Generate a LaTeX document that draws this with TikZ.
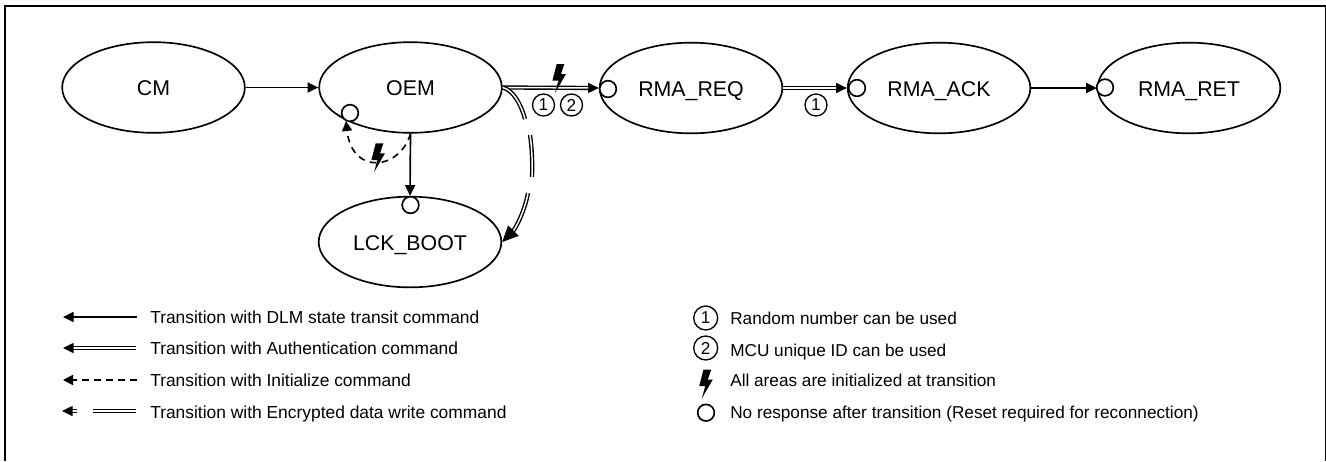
\documentclass[tikz,border=0pt]{standalone}
\usepackage{fontspec}
\setmainfont{Liberation Sans}
\usetikzlibrary{shapes.geometric,arrows.meta}
\tikzset{
  stnode/.style={ellipse,draw,line width=1.25pt,minimum width=137pt,minimum height=68pt,inner sep=0pt,text height=12.5pt,text depth=0pt,font=\fontsize{16}{18}\selectfont},
  noresp/.style={circle,draw,fill=white,line width=1.25pt,minimum size=12.5pt,inner sep=0pt},
  numc/.style={circle,draw,line width=1pt,minimum size=16.5pt,inner sep=0pt,font=\fontsize{12.9}{15}\selectfont},
  numl/.style={numc,minimum size=18pt},
  legtext/.style={anchor=base west,inner sep=0pt,font=\fontsize{13.05}{15}\selectfont},
  legright/.style={anchor=base west,inner sep=0pt,font=\fontsize{12.9}{15}\selectfont},
  conn/.style={line width=1.25pt,-{Triangle[length=8pt,width=7.5pt]}},
  dbl/.style={line width=1.05pt,double=white,double distance=1.1pt},
  dblarr/.style={dbl,-{Triangle[length=8pt,width=7.5pt]}},
  dsh/.style={line width=1.2pt,dash pattern=on 5pt off 4pt},
  bolt/.pic={\fill[black] (0,0)--(7.7,0)--(4.3,10)--(9.3,10)--(-1.7,29)--(1.7,16.7)--(-4.3,16.7)--cycle;}
}
\begin{document}
\begin{tikzpicture}[x=0.75pt,y=-0.75pt]
\useasboundingbox (0,0) rectangle (1326,461);
\draw[line width=1.5pt] (5,461)--(5,6)--(1325.5,6)--(1325.5,461);
% states
\node[stnode] (CM)  at (153.5,87.5) {CM};
\node[stnode] (OEM) at (410.5,87.5) {OEM};
\node[stnode] (REQ) at (691,88) {RMA\_REQ};
\node[stnode] (ACK) at (939,88) {RMA\_ACK};
\node[stnode] (RET) at (1189,88) {RMA\_RET};
\node[stnode] (LCK) at (410,242) {LCK\_BOOT};
% connectors
\draw[conn] (CM.east) -- (OEM.west);
\draw[conn] (OEM.south) -- (LCK.north);
\draw[dblarr] (OEM.east) -- (REQ.west);
\draw[dblarr] (REQ.east) -- (ACK.west);
\draw[conn] (ACK.east) -- (RET.west);
% encrypted data write curve, broken in three
\coordinate (e1) at (525,119);
\coordinate (e2) at (530,135);
\coordinate (e3) at (532,177);
\coordinate (e4) at (528,193);
\draw[dbl] (OEM.east) .. controls (513,90) and (521,104) .. (e1);
\draw[dbl] (e2) .. controls (532,148) and (532.5,163) .. (e3);
\draw[dbl,-{Triangle[length=12pt,width=11pt]}] (e4) .. controls (525,210) and (516,228) .. (LCK.east);
% initialize loop
\coordinate (loopend) at (346,121);
\draw[dsh,-{Triangle[length=7.5pt,width=7.5pt]}] (OEM.south) .. controls (400,170) and (352,176) .. (loopend);
% no-response circles
\node[noresp] (c1) at (350,113) {};
\node[noresp] (c2) at (410.5,205) {};
\node[noresp] (c3) at (608,89) {};
\node[noresp] (c4) at (857,88) {};
\node[noresp] (c5) at (1105,87.5) {};
% bolts
\pic at (375.7,143.3) {bolt};
\pic at (556.7,64) {bolt};
% labels
\node[numc] (n1) at (543.5,105) {1};
\node[numc] (n2) at (571.5,105) {2};
\node[numc] (n3) at (816,105) {1};
% legend left
\coordinate (l1a) at (137,317); \coordinate (l1b) at (63,317);
\coordinate (l2a) at (136,348); \coordinate (l2b) at (63,348);
\coordinate (l3a) at (137,380); \coordinate (l3b) at (63,380);
\coordinate (l4a) at (136,411); \coordinate (l4c) at (93,411);
\coordinate (l4d) at (77,411);  \coordinate (l4b) at (62,411);
\draw[conn] (l1a) -- (l1b);
\draw[dblarr] (l2a) -- (l2b);
\draw[dsh,-{Triangle[length=7.5pt,width=7.5pt]}] (l3a) -- (l3b);
\draw[dbl] (l4a) -- (l4c);
\draw[dblarr] (l4d) -- (l4b);
\node[legtext] (t1) at (150,323.3) {Transition with DLM state transit command};
\node[legtext] (t2) at (150,354.5) {Transition with Authentication command};
\node[legtext] (t3) at (150,386) {Transition with Initialize command};
\node[legtext] (t4) at (150,418.3) {Transition with Encrypted data write command};
% legend right
\node[numl] (k1) at (705.7,318) {1};
\node[numl] (k2) at (705.7,348) {2};
\pic at (703.5,369.5) {bolt};
\node[noresp] (k4) at (706,412.7) {};
\node[legright] (u1) at (730,324.3) {Random number can be used};
\node[legright] (u2) at (730,356) {MCU unique ID can be used};
\node[legright] (u3) at (730,386) {All areas are initialized at transition};
\node[legright] (u4) at (730,418.3) {No response after transition (Reset required for reconnection)};
\end{tikzpicture}
\end{document}
